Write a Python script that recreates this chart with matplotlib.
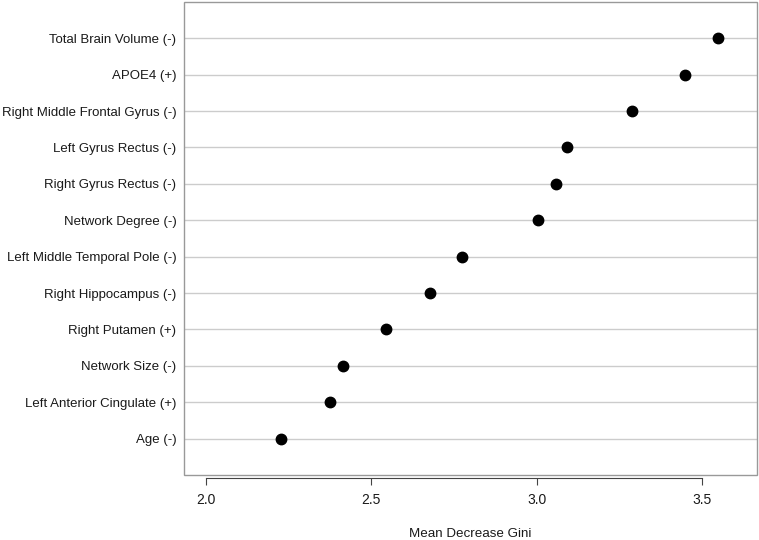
import matplotlib
matplotlib.use("Agg")
import matplotlib.pyplot as plt
from matplotlib.patches import Rectangle

plt.rcParams['font.family'] = ['Liberation Sans', 'DejaVu Sans']

# variables, bottom to top
labels = ["Age (-)", "Left Anterior Cingulate (+)", "Network Size (-)",
          "Right Putamen (+)", "Right Hippocampus (-)", "Left Middle Temporal Pole (-)",
          "Network Degree (-)", "Right Gyrus Rectus (-)", "Left Gyrus Rectus (-)",
          "Right Middle Frontal Gyrus (-)", "APOE4 (+)", "Total Brain Volume (-)"]
gini = [2.227, 2.375, 2.414, 2.544, 2.677, 2.773,
        3.003, 3.057, 3.091, 3.287, 3.447, 3.547]
xticks = [2.0, 2.5, 3.0, 3.5]

fig = plt.figure(figsize=(7.59, 5.4), dpi=100)
ax = fig.add_axes([0.2424, 0.1204, 0.755, 0.876])

ypos = list(range(1, len(labels) + 1))
for y in ypos:
    ax.axhline(y, color="#cccccc", lw=1, zorder=1)
ax.plot(gini, ypos, "o", color="black", ms=7.5, zorder=3)

ax.set_xlim(1.934, 3.665)
ax.set_ylim(0, len(labels) + 1)

# box around plot region
ax.add_patch(Rectangle((0, 0), 1, 1, transform=ax.transAxes, fill=False,
                       edgecolor="#999999", lw=1, zorder=4, clip_on=False))
for s in ["top", "right", "left"]:
    ax.spines[s].set_visible(False)
ax.spines["bottom"].set_position(("outward", 2))
ax.spines["bottom"].set_bounds(2.0, 3.5)
ax.spines["bottom"].set_color("#444444")

ax.set_xticks(xticks)
ax.set_xticklabels([f"{t:.1f}" for t in xticks])
ax.set_yticks(ypos)
ax.set_yticklabels(labels)
ax.tick_params(axis="y", length=0, pad=5.5, labelsize=9.5, labelcolor="#1a1a1a")
ax.tick_params(axis="x", length=5, color="#444444", labelsize=10, pad=6, labelcolor="#1a1a1a")
ax.set_xlabel("Mean Decrease Gini", fontsize=9.6, labelpad=15, color="#1a1a1a")

fig.savefig("out.png", dpi=100)
